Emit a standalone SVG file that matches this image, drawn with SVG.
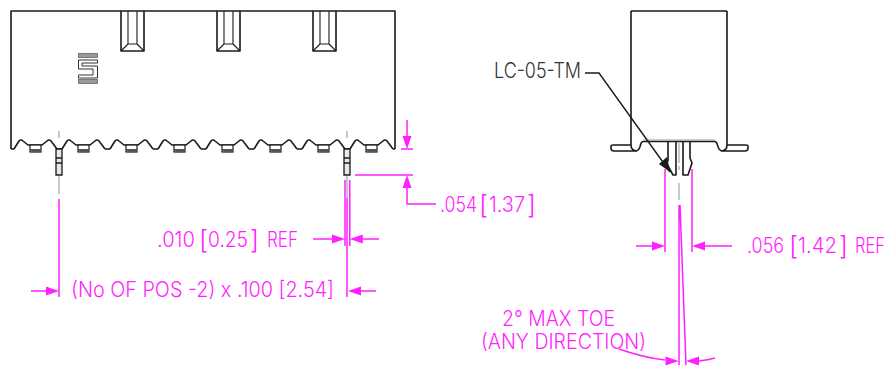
<svg xmlns="http://www.w3.org/2000/svg" width="890" height="365" viewBox="0 0 890 365">
<style>
.k{fill:none;stroke:#1a1a1a;stroke-width:1.6;stroke-linejoin:round}
.t{fill:none;stroke:#1a1a1a;stroke-width:1.1}
.g{fill:none;stroke:#c8c8c8;stroke-width:2}
.m{fill:none;stroke:#ff1fff;stroke-width:1.5}
.a{fill:#ff1fff;stroke:none}
text{font-family:"Inter","Noto Sans","Liberation Sans",sans-serif;font-weight:300;font-size:21px;fill:#ff1fff}
.b{font-size:26px}
.l{fill:#333}
</style>
<defs>
<path id="scal" class="k" d="M0 149L5 141Q7 139 9 141L14 145H28L33 141Q35 139 37 141L43 149"/>
<g id="pad"><rect x="0" y="145" width="11" height="7" fill="#fff" stroke="#1a1a1a" stroke-width="1.2"/><rect x="0" y="149" width="11" height="3" fill="#555"/></g>
<g id="slot"><path class="k" d="M0 11V51H23V11"/><path class="t" d="M7 11V44H16V11M0 51L7 44M23 51L16 44"/></g>
<g id="pin"><path d="M-3 149H3V175H-3Z" fill="#e8e8e8" stroke="#1a1a1a" stroke-width="1.3"/><path d="M-3 158H3M-3 163H3" stroke="#1a1a1a" stroke-width="1.6"/></g>
<path id="ah" class="a" d="M0 0L-13 -4.500V4.500Z"/>
</defs>
<g id="front-view">
<path class="k" d="M11 149V11H395V149"/>
<use href="#slot" x="121"/><use href="#slot" x="217"/><use href="#slot" x="313"/>
<g id="logo"><rect x="78.500" y="53.500" width="19" height="4" fill="#999" stroke="#666" stroke-width=".8"/><rect x="78.500" y="79.500" width="19" height="4" fill="#999" stroke="#666" stroke-width=".8"/><path d="M97.500 60H78.500V69H93V75H78.500V78H97.500V66H82V63H97.500Z" fill="#fff" stroke="#333" stroke-width="1"/></g>
<path class="k" d="M11 149H14M57 149H62M105 149H110M153 149H158M201 149H206M249 149H254M297 149H302M345 149H350M393 149H395"/>
<use href="#scal" x="14"/><use href="#scal" x="62"/><use href="#scal" x="110"/><use href="#scal" x="158"/><use href="#scal" x="206"/><use href="#scal" x="254"/><use href="#scal" x="302"/><use href="#scal" x="350"/>
<use href="#pad" x="30"/><use href="#pad" x="78"/><use href="#pad" x="126"/><use href="#pad" x="174"/><use href="#pad" x="222"/><use href="#pad" x="270"/><use href="#pad" x="318"/><use href="#pad" x="366"/>
<use href="#pin" x="59"/><use href="#pin" x="347"/>
<path class="g" d="M59 131V138M59 176V194M347 131V138M347 176V198"/>
</g>
<g id="side-view">
<path class="k" d="M631 11H727M631 11V145Q631 150 636 151H614Q611 151 611 148V146Q611 145 613 145H631M727 11V145Q727 150 722 151H745Q748 151 748 148V146Q748 145 746 145H727"/>
<path class="k" d="M636 151C642 150 639 142 643 141.500H715C719 142 716 150 722 151"/>
<path d="M643 140H715" stroke="#999" fill="none"/>
<path class="k" d="M668 142V160L667 164L673 175H676V142M683 142V175H688L692 163L690 158V142"/>
<path class="g" d="M679 142V163M679 166V170M679 183V200"/>
</g>
<g id="connectors">
<path class="m" d="M59 199V297M31 291H47M347 198V297M345 180V246M349.800 180V246M313 239H332M362 239H379M360 291H376"/>
<use href="#ah" transform="translate(59 291)"/><use href="#ah" transform="translate(345 239)"/><use href="#ah" transform="translate(349.800 239) rotate(180)"/><use href="#ah" transform="translate(348 291) rotate(180)"/>
<path class="m" d="M407 120V136M401 149H413M355 175H413M407 188V204H436"/>
<use href="#ah" transform="translate(407 149) rotate(90)"/><use href="#ah" transform="translate(407 175) rotate(-90)"/>
<path class="m" d="M665 169V252M692 169V252M636 246H652M705 246H732M679 205V365M680 205L686 365"/>
<use href="#ah" transform="translate(665 246)"/><use href="#ah" transform="translate(692 246) rotate(180)"/>
<path class="m" d="M619 349Q645 358 665 360M699 361Q708 360 715 358"/>
<use href="#ah" transform="translate(678.500 361)"/><use href="#ah" transform="translate(686 361) rotate(180)"/>
<path fill="none" stroke="#1a1a1a" stroke-width="1.4" d="M585 73H599L670 172"/>
<path fill="#1a1a1a" d="M670 172L659 164L667 157Z"/>
</g>
<g id="labels">
<text class="l" x="494" y="78" textLength="87" lengthAdjust="spacingAndGlyphs">LC-05-TM</text>
<text y="247"><tspan x="157" textLength="38" lengthAdjust="spacingAndGlyphs">.010</tspan> <tspan class="b" x="199" y="249">[</tspan><tspan x="208" y="247" textLength="40" lengthAdjust="spacingAndGlyphs">0.25</tspan><tspan class="b" x="250" y="249">]</tspan> <tspan x="267" y="247" textLength="31" lengthAdjust="spacingAndGlyphs">REF</tspan></text>
<text x="71" y="297" textLength="263" lengthAdjust="spacingAndGlyphs">(No OF POS -2) x .100 [2.54]</text>
<text y="212"><tspan x="440" textLength="37" lengthAdjust="spacingAndGlyphs">.054</tspan><tspan class="b" x="479" y="214">[</tspan><tspan x="489" y="212" textLength="36" lengthAdjust="spacingAndGlyphs">1.37</tspan><tspan class="b" x="527" y="214">]</tspan></text>
<text y="253"><tspan x="747" textLength="37" lengthAdjust="spacingAndGlyphs">.056</tspan> <tspan class="b" x="789" y="255">[</tspan><tspan x="798" y="253" textLength="39" lengthAdjust="spacingAndGlyphs">1.42</tspan><tspan class="b" x="839" y="255">]</tspan> <tspan x="855" y="253" textLength="30" lengthAdjust="spacingAndGlyphs">REF</tspan></text>
<text x="502" y="326" textLength="113" lengthAdjust="spacingAndGlyphs">2° MAX TOE</text>
<text x="481" y="349" textLength="165" lengthAdjust="spacingAndGlyphs">(ANY DIRECTION)</text>
</g>
</svg>
